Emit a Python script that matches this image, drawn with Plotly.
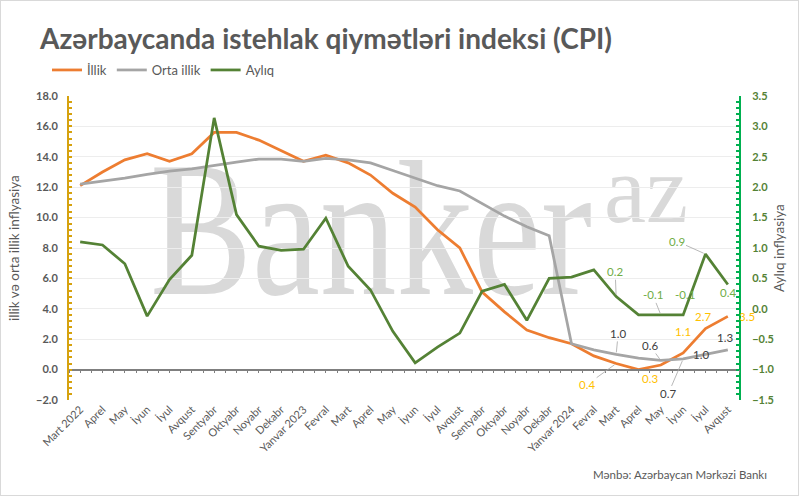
import base64
import plotly.graph_objects as go

# ---------------- data ----------------
months = ["Mart 2022", "Aprel", "May", "İyun", "İyul", "Avqust", "Sentyabr", "Oktyabr",
          "Noyabr", "Dekabr", "Yanvar 2023", "Fevral", "Mart", "Aprel", "May", "İyun",
          "İyul", "Avqust", "Sentyabr", "Oktyabr", "Noyabr", "Dekabr", "Yanvar 2024",
          "Fevral", "Mart", "Aprel", "May", "İyun", "İyul", "Avqust"]

illik = [12.1, 13.0, 13.8, 14.2, 13.7, 14.2, 15.6, 15.6, 15.1, 14.4,
         13.7, 14.1, 13.6, 12.8, 11.6, 10.7, 9.2, 8.0, 5.1, 3.8,
         2.6, 2.1, 1.7, 0.9, 0.4, 0.0, 0.3, 1.1, 2.7, 3.5]

orta_illik = [12.2, 12.4, 12.6, 12.85, 13.05, 13.2, 13.45, 13.65, 13.85, 13.85,
              13.7, 13.9, 13.8, 13.6, 13.1, 12.6, 12.1, 11.75, 10.9, 10.1,
              9.4, 8.8, 1.7, 1.3, 1.0, 0.75, 0.6, 0.7, 1.0, 1.3]

ayliq = [1.1, 1.05, 0.74, -0.12, 0.48, 0.88, 3.14, 1.55, 1.03, 0.96,
         0.98, 1.49, 0.70, 0.31, -0.37, -0.89, -0.63, -0.40, 0.29, 0.40,
         -0.19, 0.50, 0.52, 0.64, 0.2, -0.1, -0.1, -0.1, 0.9, 0.4]

# which points carry a data label
illik_labels = [24, 26, 27, 28, 29]
orta_labels = [24, 26, 27, 28, 29]
ayliq_labels = [24, 26, 27, 28, 29]

# ---------------- styling ----------------
W, H = 799, 496
ML, MR, MT, MB = 69, 60, 96, 96
PW, PH = W - ML - MR, H - MT - MB
FONT = "Lato, 'Open Sans', sans-serif"
GREY_TXT = "#595959"
ORANGE, GREY, GREEN = "#ED7D31", "#A5A5A5", "#548235"


def X(px):
    return (px - ML) / PW


def Y(py):
    return (H - MB - py) / PH


idx = list(range(len(months)))

fig = go.Figure()
fig.add_trace(go.Scatter(x=idx, y=illik, name="İllik", mode="lines",
                         line=dict(color=ORANGE, width=2.75), xaxis="x", yaxis="y"))
fig.add_trace(go.Scatter(x=idx, y=orta_illik, name="Orta illik", mode="lines",
                         line=dict(color=GREY, width=2.75), xaxis="x", yaxis="y"))
fig.add_trace(go.Scatter(x=idx, y=ayliq, name="Aylıq", mode="lines",
                         line=dict(color=GREEN, width=2.75), xaxis="x2", yaxis="y2"))

# watermark + border as a background svg
svg = f'''<svg xmlns="http://www.w3.org/2000/svg" width="{W}" height="{H}" viewBox="0 0 {W} {H}">
<text x="150" y="294" font-family="Liberation Serif" font-size="192" fill="#d9d9d9" textLength="442" lengthAdjust="spacingAndGlyphs">Banker</text>
<text x="604" y="222" font-family="Liberation Serif" font-size="98" fill="#d9d9d9" textLength="84" lengthAdjust="spacingAndGlyphs">az</text>
<rect x="0.5" y="0.5" width="{W-1}" height="{H-1}" fill="none" stroke="#d9d9d9" stroke-width="1"/>
</svg>'''
src = "data:image/svg+xml;base64," + base64.b64encode(svg.encode("utf-8")).decode()

annotations = []
# title
annotations.append(dict(text="<b>Azərbaycanda istehlak qiymətləri indeksi (CPI)</b>",
                        xref="paper", yref="paper", x=X(37), y=Y(38),
                        xanchor="left", yanchor="middle", showarrow=False,
                        font=dict(family=FONT, size=28, color=GREY_TXT)))
# axis titles
annotations.append(dict(text="illik və orta illik inflyasiya", xref="paper", yref="paper",
                        x=X(14), y=Y(248), textangle=-90, showarrow=False,
                        xanchor="center", yanchor="middle",
                        font=dict(family=FONT, size=13.5, color=GREY_TXT)))
annotations.append(dict(text="Aylıq inflyasiya", xref="paper", yref="paper",
                        x=X(779), y=Y(248), textangle=-90, showarrow=False,
                        xanchor="center", yanchor="middle",
                        font=dict(family=FONT, size=13.5, color=GREY_TXT)))
# source
annotations.append(dict(text="Mənbə: Azərbaycan Mərkəzi Bankı", xref="paper", yref="paper",
                        x=X(769), y=Y(474), xanchor="right", yanchor="middle",
                        showarrow=False, font=dict(family=FONT, size=11.5, color=GREY_TXT)))

# data labels: (ax, ay, arrow) offsets in px from the point
illik_off = {24: (-29, 21, True), 26: (-11, 13, False), 27: (0, -21, False),
             28: (-3, -12, False), 29: (19, 0, False)}
orta_off = {24: (2, -21, True), 26: (-11, -15, True), 27: (-15, 35, True),
            28: (-5, 0, False), 29: (-3, -12, False)}
ayliq_off = {24: (-1, -25, True), 26: (-8, -20, True), 27: (2, -20, False),
             28: (-29, -13, True), 29: (0, 8, False)}


def add_labels(series, which, offs, yref, color):
    for i in which:
        ax, ay, arrow = offs[i]
        a = dict(x=i, y=series[i], xref="x" if yref == "y" else "x2", yref=yref,
                 text=f"{series[i]:.1f}", font=dict(family=FONT, size=11.5, color=color))
        if arrow:
            a.update(showarrow=True, ax=ax, ay=ay, arrowhead=0, arrowwidth=0.8,
                     arrowcolor="#a6a6a6", standoff=2)
        else:
            a.update(showarrow=False, xshift=ax, yshift=-ay)
        annotations.append(a)


add_labels(illik, illik_labels, illik_off, "y", "#FFC000")
add_labels(orta_illik, orta_labels, orta_off, "y", "#404040")
add_labels(ayliq, ayliq_labels, ayliq_off, "y2", "#70AD47")

fig.update_layout(
    width=W, height=H,
    margin=dict(l=ML, r=MR, t=MT, b=MB, autoexpand=False),
    paper_bgcolor="white", plot_bgcolor="rgba(0,0,0,0)",
    font=dict(family=FONT, color=GREY_TXT),
    showlegend=True,
    legend=dict(orientation="h", x=X(47), y=Y(70), xanchor="left", yanchor="middle",
                font=dict(family=FONT, size=13, color=GREY_TXT),
                bgcolor="rgba(0,0,0,0)", itemwidth=30, tracegroupgap=0),
    xaxis=dict(range=[-0.5, len(months) - 0.5], tickmode="array", tickvals=idx,
               ticktext=months, tickangle=-45, showgrid=False, zeroline=False,
               showline=False, ticks="", tickfont=dict(family=FONT, size=11, color=GREY_TXT)),
    xaxis2=dict(range=[-0.5, len(months) - 0.5], overlaying="x", anchor="free",
                position=0.1, side="bottom", showline=True, linecolor="#7f7f7f", linewidth=1.5,
                ticks="outside", ticklen=3, tickwidth=1.2, tickcolor="#7f7f7f",
                tick0=-0.5, dtick=0.5, showticklabels=False, showgrid=False, zeroline=False),
    yaxis=dict(range=[-2, 18], dtick=2, tickformat=".1f", showgrid=True, gridcolor="#ededed",
               gridwidth=1, zeroline=False, showline=True, linecolor="#D6A20E", linewidth=2,
               ticks="inside", ticklen=3, tickcolor="#D6A20E", tickwidth=1.5,
               minor=dict(dtick=0.4, ticks="inside", ticklen=3, tickcolor="#D6A20E", tickwidth=1.5),
               ticklabelstandoff=7,
               tickfont=dict(family=FONT, size=11, color=GREY_TXT, weight="bold")),
    yaxis2=dict(range=[-1.5, 3.5], dtick=0.5, tickformat=".1f", overlaying="y", side="right",
                anchor="x", showgrid=False, zeroline=False, showline=True, linecolor="#00B050",
                linewidth=2, ticks="inside", ticklen=3, tickcolor="#00B050", tickwidth=1.5,
                minor=dict(dtick=0.1, ticks="inside", ticklen=3, tickcolor="#00B050", tickwidth=1.5),
                ticklabelstandoff=9,
                tickfont=dict(family=FONT, size=11, color=GREEN, weight="bold")),
    images=[dict(source=src, xref="paper", yref="paper", x=X(0), y=Y(0),
                 sizex=W / PW, sizey=H / PH, xanchor="left", yanchor="top",
                 sizing="stretch", layer="below")],
    annotations=annotations,
)

fig.write_html("out.html")
